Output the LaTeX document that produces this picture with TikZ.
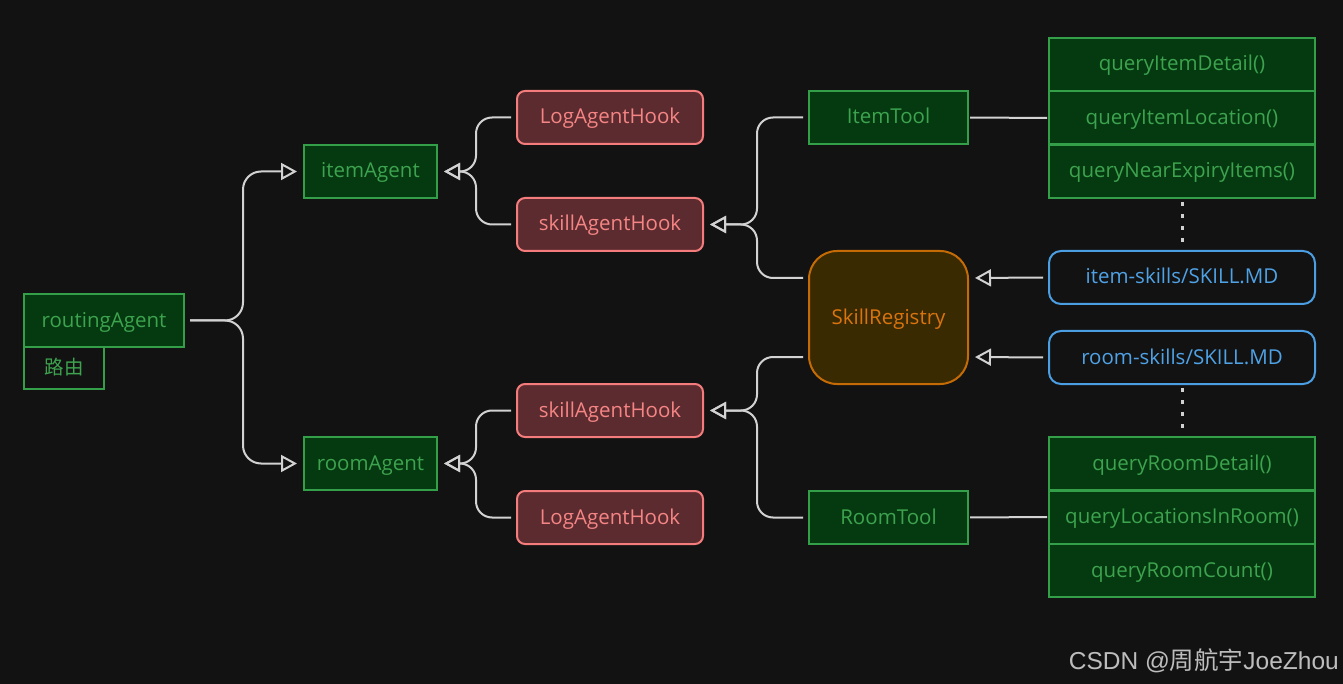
\documentclass[tikz,border=0pt]{standalone}
\usepackage{fontspec}
\setmainfont{Open Sans}
\newfontfamily\cjk{Noto Sans CJK SC}
\newfontfamily\wmfont{Liberation Sans}
\usetikzlibrary{arrows.meta}
\definecolor{bg}{HTML}{121212}
\definecolor{gfill}{HTML}{053A11}
\definecolor{gline}{HTML}{33A049}
\definecolor{gtext}{HTML}{3DA34E}
\definecolor{rfill}{HTML}{5C2B2F}
\definecolor{rline}{HTML}{F47C7C}
\definecolor{rtext}{HTML}{F58585}
\definecolor{ofill}{HTML}{3A2A02}
\definecolor{oline}{HTML}{C46B05}
\definecolor{otext}{HTML}{D9740E}
\definecolor{bline}{HTML}{4C9EE3}
\definecolor{btext}{HTML}{4FA2E6}
\definecolor{conn}{HTML}{D2D2D2}
\definecolor{wmcol}{HTML}{BDBDBD}
\tikzset{
  base/.style={inner sep=0pt, line width=2pt, text height=15pt, text depth=2pt, font=\fontsize{20.5}{24}\selectfont},
  gbox/.style={base, draw=gline, fill=gfill, text=gtext},
  rbox/.style={base, draw=rline, fill=rfill, text=rtext, rounded corners=8pt, minimum width=186pt, minimum height=53pt},
  bbox/.style={base, draw=bline, fill=bg, text=btext, rounded corners=12pt, minimum width=266pt, minimum height=53pt},
  obox/.style={base, draw=oline, fill=ofill, text=otext, rounded corners=28pt, minimum width=159pt, minimum height=133pt},
  mbox/.style={gbox, minimum width=266pt, minimum height=53pt},
  conn/.style={draw=conn, line width=2pt, rounded corners=16pt},
  arr/.style={conn, -{Triangle[open, length=16pt, width=17pt]}, shorten >=6pt, shorten <=5pt},
  plain/.style={conn, shorten <=1pt, shorten >=1pt},
  dots/.style={draw=conn, line width=3pt, dash pattern=on 4pt off 8pt}
}
\begin{document}
\begin{tikzpicture}[x=1pt,y=-1pt]
\fill[bg] (0,0) rectangle (1343,684);
\useasboundingbox (0,0) rectangle (1343,684);

% left
\node[gbox, minimum width=160pt, minimum height=53pt] (routing) at (104,320.5) {routingAgent};
\node[gbox, fill=bg, minimum width=80pt, minimum height=42pt, font=\cjk\fontsize{19.5}{22}\selectfont] (luyou) at (64,368) {路由};

\node[gbox, minimum width=133pt, minimum height=53pt] (itemAgent) at (370.5,171.5) {itemAgent};
\node[gbox, minimum width=133pt, minimum height=53pt] (roomAgent) at (370.5,463.5) {roomAgent};

\node[rbox] (log1) at (610,117.5) {LogAgentHook};
\node[rbox] (hook1) at (610,224.5) {skillAgentHook};
\node[rbox] (hook2) at (610,410.5) {skillAgentHook};
\node[rbox] (log2) at (610,517.5) {LogAgentHook};

\node[gbox, minimum width=159pt, minimum height=53pt] (itemTool) at (888.5,117.5) {ItemTool};
\node[obox] (registry) at (888.5,317.5) {SkillRegistry};
\node[gbox, minimum width=159pt, minimum height=53pt] (roomTool) at (888.5,517.5) {RoomTool};

\node[mbox] (m1) at (1182,64.5) {queryItemDetail()};
\node[mbox] (m2) at (1182,118) {queryItemLocation()};
\node[mbox] (m3) at (1182,171.5) {queryNearExpiryItems()};

\node[bbox] (itemSkills) at (1182,277.5) {item-skills/SKILL.MD};
\node[bbox] (roomSkills) at (1182,357.5) {room-skills/SKILL.MD};

\node[mbox] (r1) at (1182,463.5) {queryRoomDetail()};
\node[mbox] (r2) at (1182,517) {queryLocationsInRoom()};
\node[mbox] (r3) at (1182,570.5) {queryRoomCount()};

% connectors
\draw[arr, rounded corners=18pt] (routing.east) -- (243,320.5) -- (243,171.5) -- (itemAgent.west);
\draw[arr, rounded corners=18pt] (routing.east) -- (243,320.5) -- (243,463.5) -- (roomAgent.west);

\draw[arr] (log1.west) -- (476,117.5) -- (476,171.5) -- (itemAgent.east);
\draw[arr] (hook1.west) -- (476,224.5) -- (476,171.5) -- (itemAgent.east);
\draw[arr] (hook2.west) -- (476,410.5) -- (476,463.5) -- (roomAgent.east);
\draw[arr] (log2.west) -- (476,517.5) -- (476,463.5) -- (roomAgent.east);

\draw[arr] (itemTool.west) -- (757,117.5) -- (757,224.5) -- (hook1.east);
\draw[arr] ([yshift=39.5pt]registry.west) -- (757,278) -- (757,224.5) -- (hook1.east);
\draw[arr] ([yshift=-39.5pt]registry.west) -- (757,357) -- (757,410.5) -- (hook2.east);
\draw[arr] (roomTool.west) -- (757,517.5) -- (757,410.5) -- (hook2.east);

\draw[arr] (itemSkills.west) -- ([yshift=39.5pt]registry.east);
\draw[arr] (roomSkills.west) -- ([yshift=-39.5pt]registry.east);

\draw[plain] (itemTool.east) -- (m2.west);
\draw[plain] (roomTool.east) -- (r2.west);

\draw[dots] ([yshift=-3pt]m3.south) -- ([yshift=3pt]itemSkills.north);
\draw[dots] ([yshift=-3pt]roomSkills.south) -- ([yshift=3pt]r1.north);

\node[anchor=east, text=wmcol, font=\wmfont\fontsize{24.5}{28}\selectfont, inner sep=0pt] (wm) at (1339,661) {CSDN @{\cjk 周航宇}JoeZhou};
\end{tikzpicture}
\end{document}
